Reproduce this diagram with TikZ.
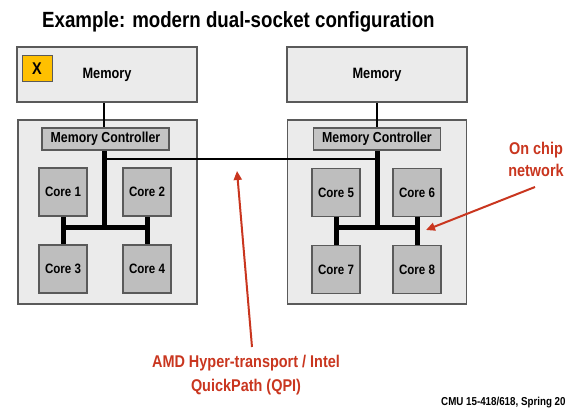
\documentclass[tikz,border=0pt]{standalone}
\usepackage{fontspec}
\setmainfont{Liberation Sans}[FakeStretch=0.85]
\usetikzlibrary{arrows.meta,backgrounds}
\definecolor{boxfill}{HTML}{EBEBEB}
\definecolor{boxline}{HTML}{5A5A5A}
\definecolor{corefill}{HTML}{BEBEBE}
\definecolor{mcfill}{HTML}{C4C4C4}
\definecolor{redc}{HTML}{C9361F}
\definecolor{gold}{HTML}{FFC000}
\begin{document}
\begin{tikzpicture}[x=1pt,y=-1pt,
  membox/.style={draw=boxline, line width=1.2pt, fill=boxfill, inner sep=0pt,
    minimum width=180, minimum height=55, font=\fontsize{15}{18}\selectfont\bfseries},
  socketbox/.style={draw=boxline, line width=1.2pt, fill=boxfill, inner sep=0pt,
    minimum width=179, minimum height=184},
  mcbox/.style={draw=boxline, line width=1.1pt, fill=mcfill, inner sep=0pt,
    minimum width=127, minimum height=22, font=\fontsize{14.5}{17}\selectfont\bfseries},
  corebox/.style={draw=boxline, line width=1.1pt, fill=corefill, inner sep=0pt,
    minimum width=48, minimum height=48, font=\fontsize{13.6}{16}\selectfont\bfseries},
  bus/.style={line width=5pt, black},
  wire/.style={line width=1.5pt, black},
  redlabel/.style={text=redc, align=center, inner sep=0pt},
  redarrow/.style={draw=redc, line width=2pt, -{Triangle[length=9pt,width=8pt]}}
]
\useasboundingbox (0,0) rectangle (566,409);

% title
\node[anchor=base west, inner sep=0pt, font=\fontsize{22}{26}\selectfont\bfseries] (title) at (42,28)
  {Example: modern dual-socket configuration};

% memories
\node[membox] (memL) at (107,74.5) {Memory};
\node[membox] (memR) at (377,74.5) {Memory};
\node[draw=boxline, line width=1pt, fill=gold, minimum width=30, minimum height=26, inner sep=0pt,
  font=\fontsize{17}{20}\selectfont\bfseries] (xbox) at (37,69) {X};

% sockets (background)
\begin{scope}[on background layer]
\node[socketbox] (sockL) at (107.5,212) {};
\node[socketbox] (sockR) at (377,212) {};
\end{scope}

% memory controllers
\node[mcbox] (mcL) at (105.5,139) {Memory Controller};
\node[mcbox] (mcR) at (377,139) {Memory Controller};

% cores
\node[corebox] (c1) at (63,192) {Core 1};
\node[corebox] (c2) at (147,192) {Core 2};
\node[corebox] (c3) at (63,269) {Core 3};
\node[corebox] (c4) at (147,269) {Core 4};
\node[corebox] (c5) at (336,192.5) {Core 5};
\node[corebox] (c6) at (417,192.5) {Core 6};
\node[corebox] (c7) at (336,269.5) {Core 7};
\node[corebox] (c8) at (417,269.5) {Core 8};

% bus junctions
\coordinate (jL) at (104,228);
\coordinate (jR) at (377,228);
\coordinate (qL) at (104,159);
\coordinate (qR) at (377,159);

\begin{scope}[on background layer]
% left on-chip network
\draw[bus] (mcL.south -| jL) -- (jL);
\draw[bus] (c1.south) -- (c3.north);
\draw[bus] (c2.south) -- (c4.north);
\draw[bus] (c1.south |- jL) -- (c2.south |- jL);
% right on-chip network
\draw[bus] (mcR.south -| jR) -- (jR);
\draw[bus] (c5.south) -- (c7.north);
\draw[bus] (c6.south) -- (c8.north);
\draw[bus] (c5.south |- jR) -- (c6.south |- jR);
% memory links
\draw[wire] (memL.south -| jL) -- (mcL.north -| jL);
\draw[wire] (memR.south -| jR) -- (mcR.north -| jR);
% QPI link
\draw[wire] (qL) -- (qR);
\end{scope}

% red annotations
\node[redlabel, font=\fontsize{17}{24}\selectfont\bfseries] (qpi) at (246,375)
  {AMD Hyper-transport / Intel\\QuickPath (QPI)};
\node[redlabel, font=\fontsize{17}{22}\selectfont\bfseries] (onchip) at (536,159)
  {On chip\\network};
\coordinate (qpiStart) at (252,347);
\coordinate (qpiTip) at (237,171);
\coordinate (ocStart) at (535,187);
\coordinate (ocTip) at (426,230);
\draw[redarrow] (qpiStart) -- (qpiTip);
\draw[redarrow] (ocStart) -- (ocTip);

% footer
\node[anchor=base west, inner sep=0pt, font=\fontsize{11.5}{14}\selectfont\bfseries] (foot) at (441,406)
  {CMU 15-418/618, Spring 20};
\end{tikzpicture}
\end{document}
